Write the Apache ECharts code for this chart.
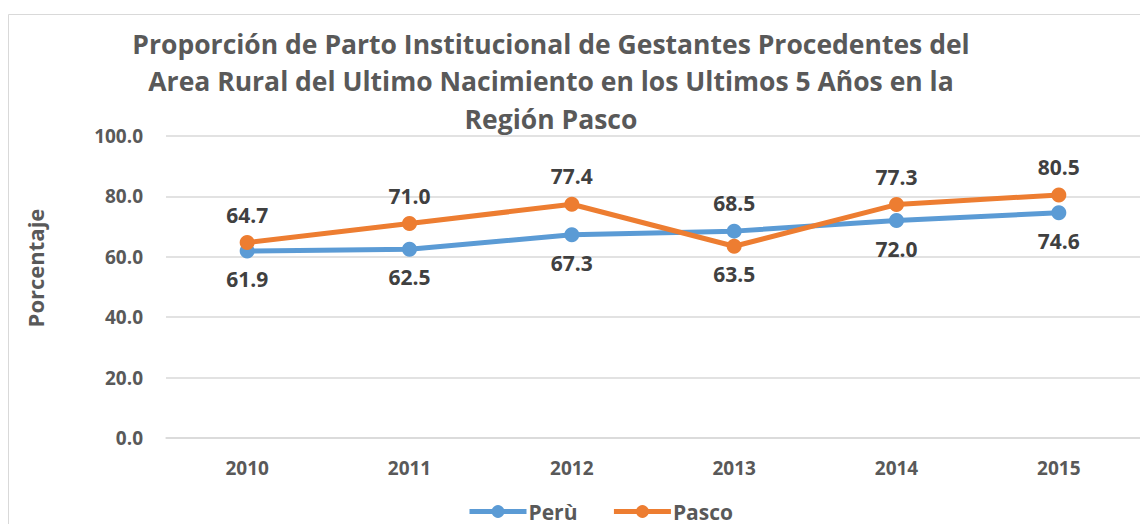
<!DOCTYPE html>
<html>
<head>
<meta charset="utf-8">
<script src="https://cdn.jsdelivr.net/npm/echarts@6/dist/echarts.min.js"></script>
<style>
  html, body { margin: 0; padding: 0; background: #fff; }
  #chart { width: 1140px; height: 524px; }
</style>
</head>
<body>
<div id="chart"></div>
<script>
// 数据
const years = ['2010', '2011', '2012', '2013', '2014', '2015'];
const peru = [61.9, 62.5, 67.3, 68.5, 72.0, 74.6];
const pasco = [64.7, 71.0, 77.4, 63.5, 77.3, 80.5];
// 标签位置（上 / 下）
const peruPos = ['bottom', 'bottom', 'bottom', 'top', 'bottom', 'bottom'];
const pascoPos = ['top', 'top', 'top', 'bottom', 'top', 'top'];

const FONT = '"Open Sans", "Noto Sans", sans-serif';
const GRAY = '#595959';

function withLabels(values, positions) {
  return values.map((v, i) => ({
    value: v,
    label: { position: positions[i] }
  }));
}

const chart = echarts.init(document.getElementById('chart'), null, { renderer: 'svg' });

const option = {
  animation: false,
  textStyle: { fontFamily: FONT },
  title: {
    text: 'Proporción de Parto Institucional de Gestantes Procedentes del\nArea Rural del Ultimo Nacimiento en los Ultimos 5 Años en la\nRegión Pasco',
    left: 546,
    top: 20,
    textAlign: 'center',
    textStyle: {
      fontFamily: FONT,
      fontSize: 26.5,
      fontWeight: 'bold',
      color: GRAY,
      lineHeight: 37.5
    }
  },
  graphic: [{
    type: 'rect',
    shape: { x: 8.5, y: 14.5, width: 1140, height: 520 },
    style: { fill: 'none', stroke: '#d9d9d9', lineWidth: 1 },
    silent: true
  }],
  legend: {
    bottom: -3,
    left: 462,
    itemWidth: 57,
    itemHeight: 16,
    itemGap: 34,
    lineStyle: { width: 5 },
    textStyle: { fontFamily: FONT, fontSize: 21, fontWeight: 'bold', color: GRAY, padding: [0, 0, 0, -3] },
    data: ['Perù', 'Pasco']
  },
  grid: { left: 166, top: 136, width: 986, height: 302 },
  xAxis: {
    type: 'category',
    data: years,
    axisLine: { lineStyle: { color: '#d9d9d9', width: 1.5 } },
    axisTick: { show: false },
    axisLabel: { fontFamily: FONT, fontSize: 19, fontWeight: 'bold', color: GRAY, margin: 20 }
  },
  yAxis: {
    type: 'value',
    min: 0,
    max: 100,
    interval: 20,
    name: 'Porcentaje',
    nameLocation: 'middle',
    nameGap: 120,
    nameTextStyle: { fontFamily: FONT, fontSize: 22, fontWeight: 'bold', color: GRAY, padding: [0, 0, 0, 38] },
    axisLine: { show: false },
    axisTick: { show: false },
    splitLine: { lineStyle: { color: '#d9d9d9', width: 1.5 } },
    axisLabel: {
      fontFamily: FONT, fontSize: 19, fontWeight: 'bold', color: GRAY, margin: 23,
      formatter: v => v.toFixed(1)
    }
  },
  series: [
    {
      name: 'Perù',
      type: 'line',
      data: withLabels(peru, peruPos),
      symbol: 'circle',
      symbolSize: 15,
      lineStyle: { color: '#5b9bd5', width: 5 },
      itemStyle: { color: '#5b9bd5' },
      label: {
        show: true, fontFamily: FONT, fontSize: 21, fontWeight: 'bold', color: '#404040',
        distance: 10, formatter: p => p.value.toFixed(1)
      }
    },
    {
      name: 'Pasco',
      type: 'line',
      data: withLabels(pasco, pascoPos),
      symbol: 'circle',
      symbolSize: 15,
      lineStyle: { color: '#ed7d31', width: 5 },
      itemStyle: { color: '#ed7d31' },
      label: {
        show: true, fontFamily: FONT, fontSize: 21, fontWeight: 'bold', color: '#404040',
        distance: 10, formatter: p => p.value.toFixed(1)
      }
    }
  ]
};

chart.setOption(option);
</script>
</body>
</html>
